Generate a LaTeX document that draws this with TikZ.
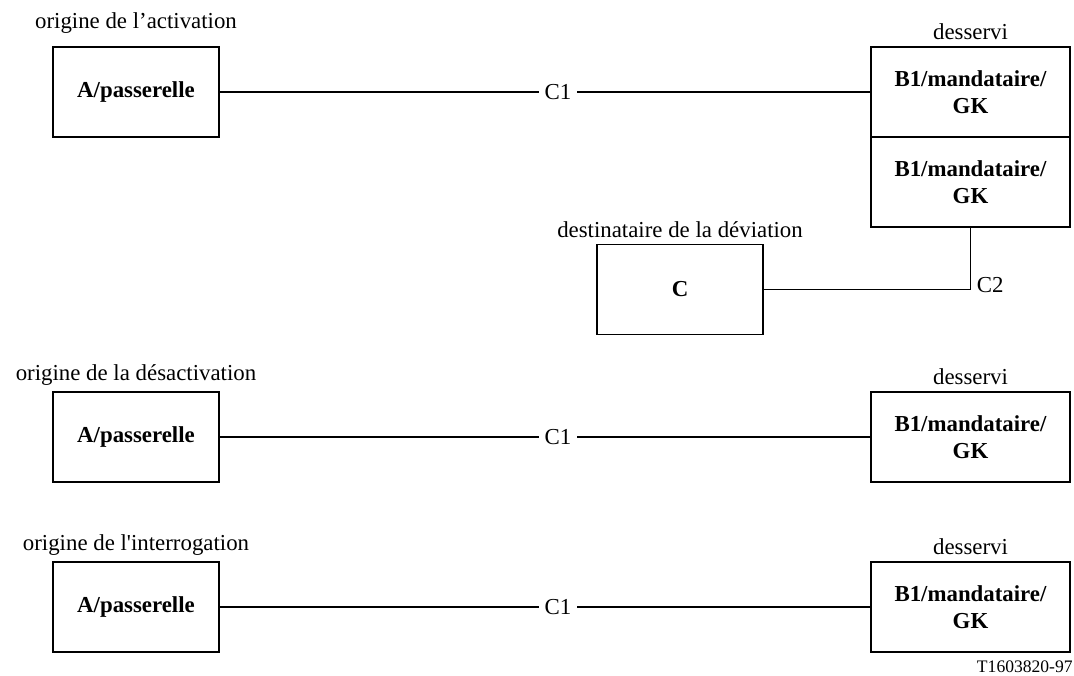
\documentclass[tikz,border=0pt]{standalone}
\usepackage{fontspec}
\setmainfont{Liberation Serif}[Ligatures=TeXOff]
\usetikzlibrary{positioning}
\newcommand\bigtext{\fontsize{13}{15}\selectfont}
\tikzset{
block/.style = {draw, line width=0.8pt, rectangle, font=\bigtext\bfseries, align=center, minimum height=1.8cm, minimum width=3.32cm},
gk/.style = {block, minimum width=3.98cm},
link/.style = {line width=1.1pt},
thinlink/.style = {line width=0.6pt},
cut/.style = {fill=white, pos=0.52},
every label/.style = {font=\bigtext}
}

\begin{document}
\begin{tikzpicture}[font=\bigtext]
    \useasboundingbox (0,0) rectangle (21.48,-13.5);
    \node [block, label={[label distance=4pt]above:origine de l’activation}] (a1) at (2.72,-1.84) {A/passerelle};
    \node [gk, right of=a1, node distance=16.69cm, label={above:desservi}] (b1) {B1/mandataire/\\GK};
    \node [gk, below of=b1, node distance=1.8cm] (b1d) {B1/mandataire/\\GK};
    \node [block, label={above:destinataire de la déviation}] (c) at (13.6,-5.79) {C};
    \node [block, below of=a1, node distance=6.9cm, label={above:origine de la désactivation}] (a2) {A/passerelle};
    \node [gk, right of=a2, node distance=16.69cm, label={above:desservi}] (b2) {B1/mandataire/\\GK};
    \node [block, below of=a2, node distance=3.4cm, label={above:origine de l'interrogation}] (a3) {A/passerelle};
    \node [gk, right of=a3, node distance=16.69cm, label={above:desservi}] (b3) {B1/mandataire/\\GK};
    \node [font=\fontsize{10}{12}\selectfont, anchor=south east, inner sep=0pt] (tag) at (21.46,-13.46) {T1603820-97};
    \draw [link] (a1) -- node[cut]{C1} (b1);
    \draw [thinlink] (c) -| node[pos=0.5, anchor=west, yshift=0.08cm]{C2} (b1d);
    \draw [link] (a2) -- node[cut]{C1} (b2);
    \draw [link] (a3) -- node[cut]{C1} (b3);
\end{tikzpicture}
\end{document}
